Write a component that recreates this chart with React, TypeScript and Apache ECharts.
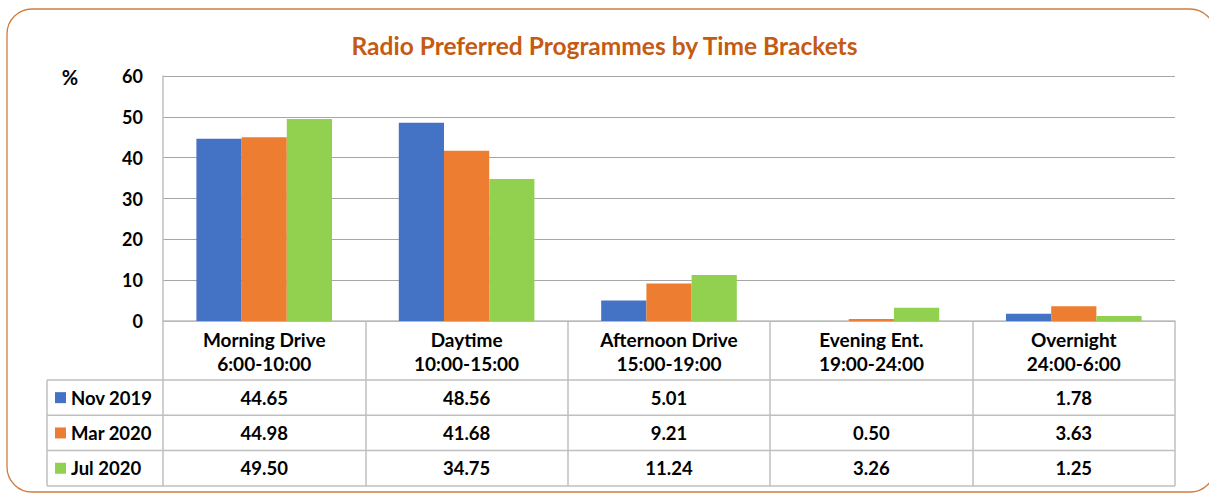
import React, { useEffect, useRef } from "react";
import * as echarts from "echarts";

const categories = [
  "Morning Drive\n6:00-10:00",
  "Daytime\n10:00-15:00",
  "Afternoon Drive\n15:00-19:00",
  "Evening Ent.\n19:00-24:00",
  "Overnight\n24:00-6:00",
];
const seriesNames = ["Nov 2019", "Mar 2020", "Jul 2020"];
const nov2019: (number | null)[] = [44.65, 48.56, 5.01, null, 1.78];
const mar2020: (number | null)[] = [44.98, 41.68, 9.21, 0.5, 3.63];
const jul2020: (number | null)[] = [49.5, 34.75, 11.24, 3.26, 1.25];
const colors = ["#4472c4", "#ed7d31", "#92d050"];
const yTicks = [0, 10, 20, 30, 40, 50, 60];

const FONT = "Lato, 'Open Sans', sans-serif";

export default function App() {
  const ref = useRef<HTMLDivElement>(null);
  useEffect(() => {
    if (!ref.current) return;
    const chart = echarts.init(ref.current, null, { renderer: "svg" });
    const W = 1209;
    const gridL = 163;
    const gridR = 1175;
    const gridT = 76;
    const gridB = 321;
    const tableL = 47;
    const headerBottom = 380;
    const rowH = 35.3;
    const colW = (gridR - gridL) / categories.length;
    const lineColor = "#bfbfbf";
    const allSeries = [nov2019, mar2020, jul2020];

    const graphics: any[] = [];
    graphics.push({
      type: "rect",
      shape: { x: 7, y: 9, width: 1208, height: 483, r: 25 },
      style: { fill: "none", stroke: "#d27b3e", lineWidth: 1.3 },
      silent: true,
    });
    graphics.push({
      type: "text",
      x: 70,
      y: 77,
      style: {
        text: "%",
        font: `bold 20px ${FONT}`,
        fill: "#000",
        align: "center",
        verticalAlign: "middle",
      },
    });
    for (let r = 0; r <= allSeries.length; r++) {
      const y = headerBottom + r * rowH;
      graphics.push({
        type: "line",
        shape: { x1: tableL, y1: y, x2: gridR, y2: y },
        style: { stroke: lineColor, lineWidth: 1.5 },
      });
    }
    graphics.push({
      type: "line",
      shape: { x1: tableL, y1: headerBottom, x2: tableL, y2: headerBottom + rowH * allSeries.length },
      style: { stroke: lineColor, lineWidth: 1.5 },
    });
    allSeries.forEach((vals, r) => {
      const cy = headerBottom + (r + 0.5) * rowH;
      graphics.push({
        type: "rect",
        shape: { x: 55, y: cy - 5.5, width: 11, height: 11 },
        style: { fill: colors[r] },
      });
      graphics.push({
        type: "text",
        x: 71,
        y: cy,
        style: {
          text: seriesNames[r],
          font: `bold 18.5px ${FONT}`,
          fill: "#000",
          align: "left",
          verticalAlign: "middle",
        },
      });
      vals.forEach((v, c) => {
        if (v === null) return;
        graphics.push({
          type: "text",
          x: gridL + (c + 0.5) * colW,
          y: cy,
          style: {
            text: v.toFixed(2),
            font: `bold 18.5px ${FONT}`,
            fill: "#000",
            align: "center",
            verticalAlign: "middle",
          },
        });
      });
    });

    chart.setOption({
      animation: false,
      title: {
        text: "Radio Preferred Programmes by Time Brackets",
        left: "center",
        top: 28,
        textStyle: { color: "#c55a11", fontSize: 24.5, fontWeight: "bold", fontFamily: FONT },
      },
      grid: { left: gridL, right: W - gridR, top: gridT, bottom: 493 - gridB, containLabel: false },
      xAxis: {
        type: "category",
        data: categories,
        axisLine: { show: true, lineStyle: { color: lineColor, width: 1.5 } },
        axisTick: { show: true, length: 165, lineStyle: { color: lineColor, width: 1.5 } },
        axisLabel: {
          margin: 6,
          color: "#000",
          fontSize: 19,
          fontWeight: "bold",
          fontFamily: FONT,
          lineHeight: 24,
          interval: 0,
        },
      },
      yAxis: {
        type: "value",
        min: 0,
        max: 60,
        interval: 10,
        axisLine: { show: true, lineStyle: { color: lineColor, width: 1.5 } },
        axisTick: { show: false },
        splitLine: { lineStyle: { color: "#a6a6a6", width: 1.2 } },
        axisLabel: {
          margin: 20,
          color: "#000",
          fontSize: 18,
          fontWeight: "bold",
          fontFamily: FONT,
          formatter: (v: number) => (yTicks.includes(v) ? String(v) : ""),
        },
      },
      series: allSeries.map((vals, i) => ({
        name: seriesNames[i],
        type: "bar",
        data: vals,
        itemStyle: { color: colors[i] },
        barGap: "0%",
        barCategoryGap: "33%",
      })),
      graphic: graphics,
    });
    return () => chart.dispose();
  }, []);
  return (
    <div
      ref={ref}
      style={{ position: "fixed", left: 0, top: 0, width: 1209, height: 493, background: "#fff" }}
    />
  );
}
